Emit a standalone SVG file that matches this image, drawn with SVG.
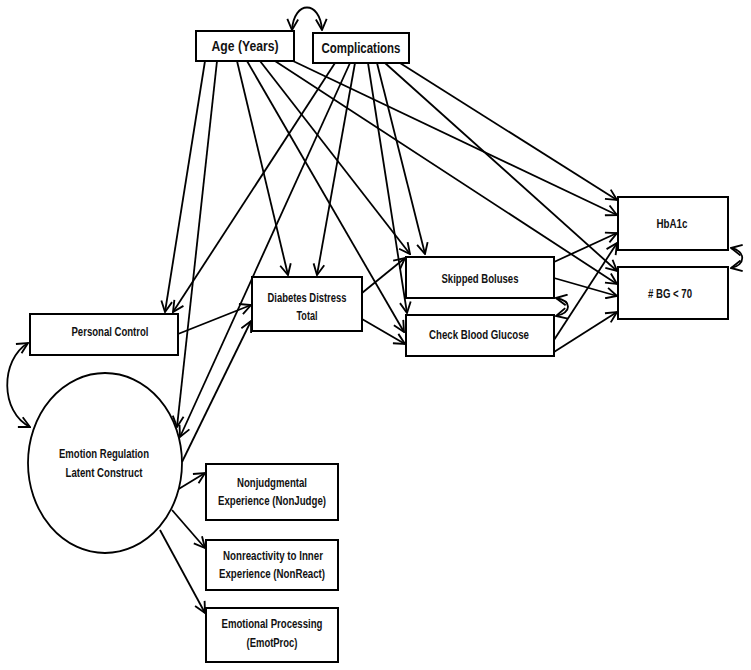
<svg xmlns="http://www.w3.org/2000/svg" width="751" height="670" viewBox="0 0 751 670">
<style>
.box{fill:#fff;stroke:#000;stroke-width:2}
.t{font-family:"Liberation Sans",Arial,sans-serif;font-weight:bold;font-size:13px;text-anchor:middle;fill:#111}
.tl{font-size:15px}
.c line,.c path{stroke:#000;stroke-width:1.8;fill:none;marker-end:url(#a)}
.c path.d{marker-start:url(#a)}
</style>
<defs>
<marker id="a" viewBox="0 0 12 12" refX="11" refY="6" markerWidth="13" markerHeight="13" markerUnits="userSpaceOnUse" orient="auto-start-reverse">
<path d="M1,1 L11,6 L1,11" fill="none" stroke="#000" stroke-width="1.7"/>
</marker>
</defs>
<rect width="751" height="670" fill="#fff"/>
<g class="c" id="connectors">
<line x1="205" y1="61" x2="165" y2="312"/>
<line x1="217" y1="61" x2="177" y2="427"/>
<line x1="237" y1="61" x2="288" y2="275"/>
<line x1="247" y1="61" x2="404" y2="332"/>
<line x1="260" y1="61" x2="410" y2="254"/>
<line x1="275" y1="61" x2="617" y2="284"/>
<line x1="293" y1="61" x2="617" y2="215"/>
<line x1="335" y1="63" x2="173" y2="312"/>
<line x1="350" y1="63" x2="180" y2="437"/>
<line x1="355" y1="63" x2="317" y2="275"/>
<line x1="368" y1="63" x2="407" y2="313"/>
<line x1="377" y1="63" x2="425" y2="254"/>
<line x1="385" y1="63" x2="617" y2="271"/>
<line x1="400" y1="63" x2="617" y2="200"/>
<line x1="178" y1="334" x2="251" y2="305"/>
<line x1="182" y1="462" x2="251" y2="321"/>
<line x1="362" y1="293" x2="405" y2="258"/>
<line x1="362" y1="319" x2="405" y2="344"/>
<line x1="554" y1="262" x2="617" y2="233"/>
<line x1="554" y1="278" x2="617" y2="296"/>
<line x1="554" y1="340" x2="617" y2="243"/>
<line x1="554" y1="352" x2="617" y2="312"/>
<line x1="177" y1="490" x2="205" y2="473"/>
<line x1="172" y1="510" x2="205" y2="548"/>
<line x1="160" y1="530" x2="205" y2="613"/>
<path class="d" d="M292,30 C294,0 320,0 322,30"/>
<path class="d" d="M28,343 C0,360 0,412 30,427"/>
<path class="d" d="M731,248 C746,251 746,265 731,268"/>
<path class="d" d="M556,298 C572,301 572,312 556,316"/>
</g>
<g id="age"><rect class="box" x="196" y="31" width="98" height="30"/><text class="t tl" x="245" y="51" textLength="67" lengthAdjust="spacingAndGlyphs">Age (Years)</text></g>
<g id="complications"><rect class="box" x="313" y="33" width="96" height="30"/><text class="t tl" x="361" y="53" textLength="79" lengthAdjust="spacingAndGlyphs">Complications</text></g>
<g id="hba1c"><rect class="box" x="618" y="197" width="110" height="53"/><text class="t" x="672" y="228" textLength="31" lengthAdjust="spacingAndGlyphs">HbA1c</text></g>
<g id="bg70"><rect class="box" x="618" y="267" width="110" height="52"/><text class="t" x="670" y="298" textLength="44" lengthAdjust="spacingAndGlyphs"># BG &lt; 70</text></g>
<g id="ddt"><rect class="box" x="252" y="277" width="110" height="54"/><text class="t" x="307" y="302" textLength="79" lengthAdjust="spacingAndGlyphs">Diabetes Distress</text><text class="t" x="307" y="320" textLength="21" lengthAdjust="spacingAndGlyphs">Total</text></g>
<g id="skipped"><rect class="box" x="406" y="257" width="148" height="41"/><text class="t" x="480" y="283" textLength="77" lengthAdjust="spacingAndGlyphs">Skipped Boluses</text></g>
<g id="checkbg"><rect class="box" x="406" y="315" width="148" height="41"/><text class="t" x="479" y="339" textLength="100" lengthAdjust="spacingAndGlyphs">Check Blood Glucose</text></g>
<g id="personal"><rect class="box" x="30" y="314" width="148" height="41"/><text class="t" x="110" y="336" textLength="77" lengthAdjust="spacingAndGlyphs">Personal Control</text></g>
<g id="emotion"><ellipse cx="105" cy="463" rx="77" ry="90" fill="#fff" stroke="#000" stroke-width="1.8"/><text class="t" x="104" y="458" textLength="90" lengthAdjust="spacingAndGlyphs">Emotion Regulation</text><text class="t" x="104" y="477" textLength="77" lengthAdjust="spacingAndGlyphs">Latent Construct</text></g>
<g id="nonjudge"><rect class="box" x="206" y="464" width="132" height="56"/><text class="t" x="272" y="487" textLength="70" lengthAdjust="spacingAndGlyphs">Nonjudgmental</text><text class="t" x="272" y="505" textLength="108" lengthAdjust="spacingAndGlyphs">Experience (NonJudge)</text></g>
<g id="nonreact"><rect class="box" x="206" y="540" width="132" height="50"/><text class="t" x="273" y="560" textLength="100" lengthAdjust="spacingAndGlyphs">Nonreactivity to Inner</text><text class="t" x="272" y="578" textLength="106" lengthAdjust="spacingAndGlyphs">Experience (NonReact)</text></g>
<g id="emotproc"><rect class="box" x="206" y="608" width="132" height="54"/><text class="t" x="272" y="628" textLength="101" lengthAdjust="spacingAndGlyphs">Emotional Processing</text><text class="t" x="272" y="647" textLength="51" lengthAdjust="spacingAndGlyphs">(EmotProc)</text></g>
</svg>
